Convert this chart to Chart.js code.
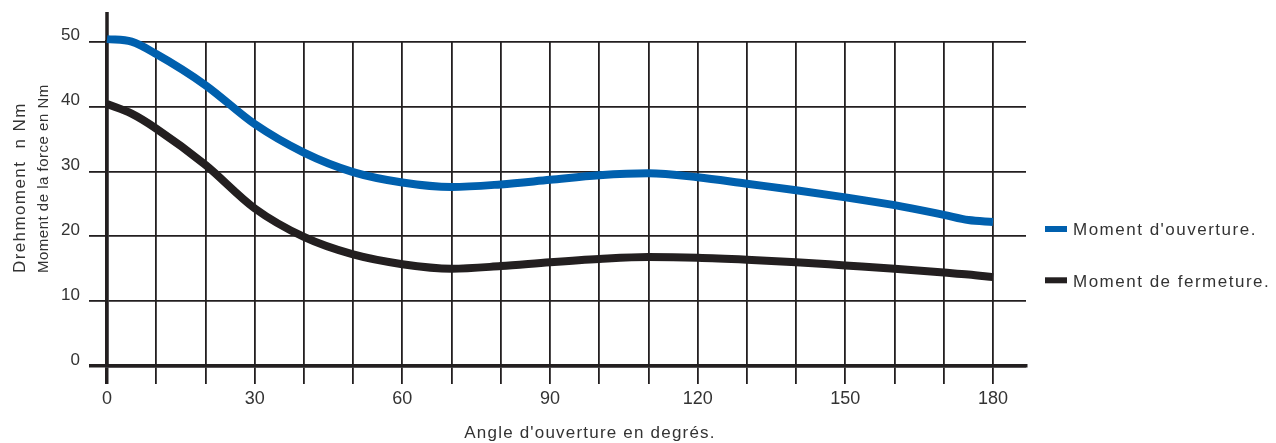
<!DOCTYPE html>
<html>
<head>
<meta charset="utf-8">
<script src="https://cdn.jsdelivr.net/npm/chart.js@4"></script>
<style>
  body { margin: 0; background: #fff; }
  .wrap { width: 1276px; height: 443px; }
</style>
</head>
<body>
<div class="wrap"><canvas id="moment"></canvas></div>
<script>
// angle d'ouverture (degrés)
const angles = [0, 5, 10, 20, 30, 40, 50, 60, 70, 80, 90, 100, 110, 120, 130, 140, 150, 160, 170, 175, 180];
// moment d'ouverture (Nm)
const opening = [50.4, 50.0, 48.1, 43.3, 37.3, 32.9, 29.9, 28.3, 27.6, 28.0, 28.7, 29.4, 29.7, 29.1, 28.1, 27.1, 26.0, 24.8, 23.3, 22.5, 22.2];
// moment de fermeture (Nm)
const closing = [40.4, 38.9, 36.6, 31.0, 24.3, 19.9, 17.2, 15.7, 15.0, 15.4, 16.0, 16.5, 16.8, 16.7, 16.4, 16.0, 15.5, 15.0, 14.4, 14.1, 13.7];

const seriesNames = ["Moment d'ouverture.", 'Moment de fermeture.'];
const xTicks = [0, 30, 60, 90, 120, 150, 180];
const yTicks = [0, 10, 20, 30, 40, 50];

const blue = '#0060ae'
const ink = '#231f20'
const txt = '#333333'

Chart.defaults.font.family = "'Liberation Sans', Arial, sans-serif"
Chart.defaults.color = txt

// titres des axes + légende, dessinés à la main
const decor = {
  id: 'decor',
  beforeDatasetsDraw(chart) {
    const ctx = chart.ctx
    const x0 = chart.scales.x.getPixelForValue(0)
    ctx.save()
    ctx.strokeStyle = ink
    ctx.lineWidth = 3.5
    ctx.beginPath()
    ctx.moveTo(x0, chart.chartArea.top)
    ctx.lineTo(x0, 12)
    ctx.stroke()
    ctx.restore()
  },
  afterDraw(chart) {
    const ctx = chart.ctx
    ctx.save()
    ctx.fillStyle = txt
    ctx.textBaseline = 'alphabetic'

    // y titles
    ctx.save()
    ctx.translate(25.3, 273)
    ctx.rotate(-Math.PI / 2)
    ctx.textAlign = 'left'
    ctx.font = "17px 'Liberation Sans', Arial, sans-serif"
    ctx.letterSpacing = '1.4px'
    ctx.fillText('Drehmoment  n Nm', 0, 0)
    ctx.restore()

    ctx.save()
    ctx.translate(47.8, 273)
    ctx.rotate(-Math.PI / 2)
    ctx.textAlign = 'left'
    ctx.font = "15px 'Liberation Sans', Arial, sans-serif"
    ctx.letterSpacing = '0.5px'
    ctx.fillText('Moment de la force en Nm', 0, 0)
    ctx.restore()

    // x title
    ctx.save()
    ctx.textAlign = 'center'
    ctx.font = "17px 'Liberation Sans', Arial, sans-serif"
    ctx.letterSpacing = '1.2px'
    ctx.fillText("Angle d'ouverture en degrés.", 590, 438.3)
    ctx.restore()

    // legend
    const rows = [229, 280.3]
    chart.data.datasets.forEach((ds, i) => {
      ctx.fillStyle = ds.borderColor
      ctx.fillRect(1045, rows[i] - 3, 22, 6)
      ctx.fillStyle = txt
      ctx.textAlign = 'left'
      ctx.font = "17px 'Liberation Sans', Arial, sans-serif"
      ctx.letterSpacing = '1.5px'
      ctx.fillText(ds.label, 1073, rows[i] + 6.2)
    })
    ctx.restore()
  }
}

const el = document.getElementById('moment')
const pts = vals => angles.map((a, i) => ({ x: a, y: vals[i] }))
const gridWidth = c => (c.tick && c.tick.value === 0 ? 3.5 : 1.8)

new Chart(el, {
  type: 'line',
  data: {
    datasets: [{
      label: seriesNames[0],
      data: pts(opening),
      borderColor: blue,
      borderWidth: 8,
      pointRadius: 0,
      cubicInterpolationMode: 'monotone',
      clip: false
    }, {
      label: seriesNames[1],
      data: pts(closing),
      borderColor: ink,
      borderWidth: 8,
      pointRadius: 0,
      cubicInterpolationMode: 'monotone',
      clip: false
    }]
  },
  options: {
    responsive: true,
    maintainAspectRatio: false,
    animation: false,
    layout: { padding: { top: 41.7, right: 250, bottom: 0, left: 0 } },
    plugins: {
      legend: { display: false },
      tooltip: { enabled: false }
    },
    scales: {
      x: {
        type: 'linear',
        min: 0,
        max: 186.7,
        ticks: {
          stepSize: 10,
          includeBounds: false,
          autoSkip: false,
          maxRotation: 0,
          padding: 4,
          font: { size: 18 },
          color: txt,
          callback: v => (xTicks.includes(v) ? v : '')
        },
        grid: { color: ink, lineWidth: gridWidth, tickLength: 18 },
        border: { color: ink, width: 3.5 },
        afterFit: s => { s.height = 77 }
      },
      y: {
        min: 0,
        max: 50,
        ticks: {
          stepSize: 10,
          padding: 9,
          labelOffset: -6,
          font: { size: 17 },
          color: txt,
          callback: v => (yTicks.includes(v) ? v : '')
        },
        grid: { color: ink, lineWidth: gridWidth, tickLength: 18 },
        border: { color: ink, width: 3.5 },
        afterFit: s => { s.width = 107 }
      }
    }
  },
  plugins: [decor]
});
</script>
</body>
</html>
